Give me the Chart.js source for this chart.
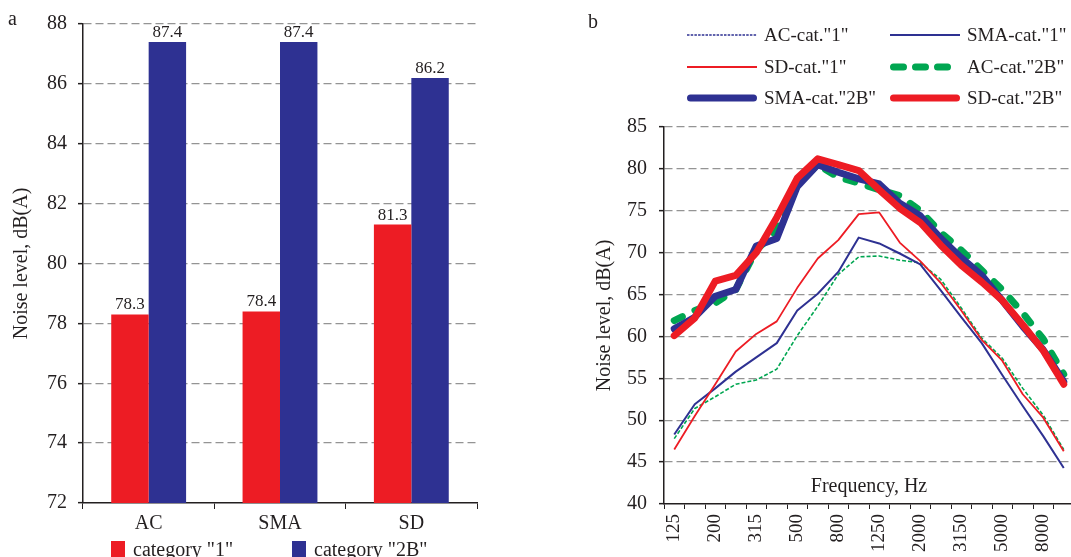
<!doctype html>
<html lang="en">
    <head>
        <meta charset="UTF-8" />
        <title>Noise level</title>
        <script src="https://cdn.jsdelivr.net/npm/chart.js"></script>
        <style>
            html, body { margin: 0; padding: 0; background: #fff; overflow: hidden; }
            #wrap { position: relative; width: 1071px; height: 557px; overflow: hidden; }
            .panel { position: absolute; top: 0; }
            .tag {
                position: absolute;
                font: 20px "Liberation Serif", "DejaVu Serif", serif;
                line-height: 20px;
                color: #231f20;
            }
        </style>
    </head>
    <body>
        <div id="wrap">
            <div class="panel" style="left: 0"><canvas id="chartA" width="560" height="557"></canvas></div>
            <!-- plot b runs a few px past the page edge, as in the original -->
            <div class="panel" style="left: 580px"><canvas id="chartB" width="494" height="557"></canvas></div>
            <div class="tag" style="left: 8px; top: 8px">a</div>
            <div class="tag" style="left: 588px; top: 11px">b</div>
        </div>

        <script>
            // panel a
            const groups = ["AC", "SMA", "SD"];
            const cat1 = [78.3, 78.4, 81.3];
            const cat2B = [87.4, 87.4, 86.2];

            // panel b, 1/3 octave bands
            const freqs = ["125", "160", "200", "250", "315", "400", "500", "630", "800", "1000",
                "1250", "1600", "2000", "2500", "3150", "4000", "5000", "6300", "8000", "10000"];
            const acCat1 = [47.8, 51.4, 52.8, 54.3, 54.8, 56.1, 60.1, 63.6, 67.4, 69.5,
                69.6, 69.1, 68.8, 66.8, 63.4, 59.8, 57.4, 53.8, 50.6, 46.5];
            const smaCat1 = [48.3, 51.9, 53.8, 55.8, 57.5, 59.2, 63.1, 65.1, 67.7, 71.8,
                71.1, 69.9, 68.6, 65.5, 62.3, 59.2, 55.4, 51.7, 48.1, 44.3];
            const sdCat1 = [46.5, 50.5, 54.3, 58.2, 60.3, 61.8, 65.8, 69.3, 71.5, 74.6,
                74.8, 71.2, 69.0, 66.4, 63.1, 59.6, 57.1, 53.1, 50.3, 46.3];
            const acCat2B = [61.9, 63.1, 64.0, 65.6, 70.3, 72.6, 78.1, 80.5, 79.0, 78.3,
                77.5, 76.8, 75.0, 72.4, 70.3, 67.9, 65.6, 62.8, 59.7, 55.5];
            const smaCat2B = [60.9, 62.3, 64.8, 65.6, 70.8, 71.7, 77.9, 80.5, 79.6, 78.8,
                78.2, 75.9, 74.4, 71.7, 69.4, 67.3, 64.3, 61.2, 58.4, 54.6];
            const sdCat2B = [60.1, 62.2, 66.6, 67.3, 70.0, 74.2, 78.9, 81.2, 80.5, 79.8,
                77.5, 75.3, 73.6, 70.9, 68.5, 66.5, 64.3, 61.4, 58.3, 54.3];

            const RED = "#ed1c24";
            const BLUE = "#2e3192";
            const GREEN = "#00a651";
            const INK = "#231f20";
            const GRID = "#949494";
            const FAMILY = "'Liberation Serif', 'DejaVu Serif', serif";

            Chart.defaults.font.family = FAMILY;
            Chart.defaults.font.size = 20;
            Chart.defaults.color = INK;

            const barValues = {
                id: "barValues",
                afterDatasetsDraw(chart) {
                    const ctx = chart.ctx;
                    ctx.save();
                    ctx.font = "17px " + FAMILY;
                    ctx.fillStyle = INK;
                    ctx.textAlign = "center";
                    ctx.textBaseline = "bottom";
                    chart.data.datasets.forEach((ds, i) => {
                        chart.getDatasetMeta(i).data.forEach((bar, j) => {
                            ctx.fillText(ds.data[j].toFixed(1), bar.x, bar.y - 1);
                        });
                    });
                    ctx.restore();
                },
            };

            const legendA = {
                id: "legendA",
                afterDraw(chart) {
                    const ctx = chart.ctx;
                    const xs = [111, 292];
                    ctx.save();
                    ctx.font = "20px " + FAMILY;
                    ctx.textBaseline = "alphabetic";
                    chart.data.datasets.forEach((ds, i) => {
                        ctx.fillStyle = ds.backgroundColor;
                        ctx.fillRect(xs[i], 541, 14, 16);
                        ctx.fillStyle = INK;
                        ctx.fillText(ds.label, xs[i] + 22, 556);
                    });
                    ctx.restore();
                },
            };

            const legendB = {
                id: "legendB",
                afterDraw(chart) {
                    const ctx = chart.ctx;
                    const cols = [107, 310];
                    const rows = [35, 67, 98];
                    ctx.save();
                    chart.data.datasets.forEach((ds, i) => {
                        const x = cols[i % 2];
                        const y = rows[Math.floor(i / 2)];
                        const cap = ds.borderCapStyle || "butt";
                        const inset = cap === "round" ? ds.borderWidth / 2 : 0;
                        ctx.strokeStyle = ds.legendColor || ds.borderColor;
                        ctx.lineWidth = ds.borderWidth;
                        ctx.lineCap = cap;
                        ctx.setLineDash(ds.legendDash || ds.borderDash || []);
                        ctx.beginPath();
                        ctx.moveTo(x + inset, y);
                        ctx.lineTo(x + 70 - inset, y);
                        ctx.stroke();
                        ctx.setLineDash([]);
                        ctx.fillStyle = INK;
                        ctx.font = "19px " + FAMILY;
                        ctx.textBaseline = "middle";
                        ctx.textAlign = "left";
                        ctx.fillText(ds.label, x + 77, y + 1);
                    });
                    // x axis caption sits inside the plot
                    const a = chart.chartArea;
                    ctx.font = "20px " + FAMILY;
                    ctx.textAlign = "center";
                    ctx.fillText("Frequency, Hz", (a.left + a.right) / 2, a.bottom - 17);
                    ctx.restore();
                },
            };

            new Chart(document.getElementById("chartA"), {
                type: "bar",
                data: {
                    labels: groups,
                    datasets: [
                        { label: 'category "1"', data: cat1, backgroundColor: RED },
                        { label: 'category "2B"', data: cat2B, backgroundColor: BLUE },
                    ],
                },
                options: {
                    responsive: false,
                    animation: false,
                    events: [],
                    layout: { padding: { top: 24, right: 83, left: 0, bottom: 0 } },
                    datasets: { bar: { categoryPercentage: 0.57, barPercentage: 1.0 } },
                    plugins: { legend: { display: false }, tooltip: { enabled: false } },
                    scales: {
                        x: {
                            afterFit: (s) => { s.height = 54; },
                            grid: { drawOnChartArea: false, tickLength: 6, color: INK, offset: true },
                            border: { color: INK, width: 1.5 },
                            ticks: { padding: 3, maxRotation: 0, font: { size: 20 } },
                        },
                        y: {
                            min: 72,
                            max: 88,
                            afterFit: (s) => { s.width = 83; },
                            ticks: { stepSize: 2, padding: 11, font: { size: 20 } },
                            grid: {
                                color: (c) => (c.tick && c.tick.value === 72 ? "rgba(0,0,0,0)" : GRID),
                                lineWidth: 1.3,
                                tickLength: 5,
                                tickColor: INK,
                                tickWidth: 1.5,
                            },
                            border: { color: INK, width: 1.5, dash: [8, 4] },
                            title: {
                                display: true,
                                text: "Noise level, dB(A)",
                                font: { size: 20 },
                                padding: { top: 10, bottom: 0 },
                            },
                        },
                    },
                },
                plugins: [barValues, legendA],
            });

            new Chart(document.getElementById("chartB"), {
                type: "line",
                data: {
                    labels: freqs,
                    datasets: [
                        { label: 'AC-cat."1"', data: acCat1, borderColor: GREEN, borderWidth: 1.6,
                          borderDash: [4, 2], legendColor: BLUE, legendDash: [2.5, 1.2], order: 5 },
                        { label: 'SMA-cat."1"', data: smaCat1, borderColor: BLUE, borderWidth: 2, order: 4 },
                        { label: 'SD-cat."1"', data: sdCat1, borderColor: RED, borderWidth: 1.8, order: 3 },
                        { label: 'AC-cat."2B"', data: acCat2B, borderColor: GREEN, borderWidth: 7,
                          borderDash: [9, 14], borderCapStyle: "round", legendDash: [10, 12], order: 2 },
                        { label: 'SMA-cat."2B"', data: smaCat2B, borderColor: BLUE, borderWidth: 7,
                          borderCapStyle: "round", order: 1 },
                        { label: 'SD-cat."2B"', data: sdCat2B, borderColor: RED, borderWidth: 7,
                          borderCapStyle: "round", order: 0 },
                    ],
                },
                options: {
                    responsive: false,
                    animation: false,
                    events: [],
                    layout: { padding: { top: 127, right: 0, left: 0, bottom: 0 } },
                    elements: {
                        point: { radius: 0 },
                        line: { tension: 0, borderJoinStyle: "round", fill: false },
                    },
                    plugins: { legend: { display: false }, tooltip: { enabled: false } },
                    scales: {
                        x: {
                            offset: true,
                            afterFit: (s) => {
                                s.height = 53;
                                s.paddingLeft = 0;
                                s.paddingRight = 0;
                            },
                            grid: { drawOnChartArea: false, tickLength: 5, color: INK, offset: true },
                            border: { color: INK, width: 1.5 },
                            ticks: {
                                autoSkip: false,
                                minRotation: 90,
                                maxRotation: 90,
                                padding: 5,
                                font: { size: 19 },
                                callback: (v, i) => (i % 2 === 0 ? freqs[i] : ""),
                            },
                        },
                        y: {
                            min: 40,
                            max: 85,
                            afterFit: (s) => { s.width = 84; },
                            ticks: { stepSize: 5, padding: 12, font: { size: 20 } },
                            grid: {
                                color: (c) => (c.tick && c.tick.value === 40 ? "rgba(0,0,0,0)" : GRID),
                                lineWidth: 1.3,
                                tickLength: 5,
                                tickColor: INK,
                                tickWidth: 1.5,
                            },
                            border: { color: INK, width: 1.5, dash: [8, 4] },
                            title: {
                                display: true,
                                text: "Noise level, dB(A)",
                                font: { size: 20 },
                                padding: { top: 13, bottom: 0 },
                            },
                        },
                    },
                },
                plugins: [legendB],
            });
        </script>
    </body>
</html>
